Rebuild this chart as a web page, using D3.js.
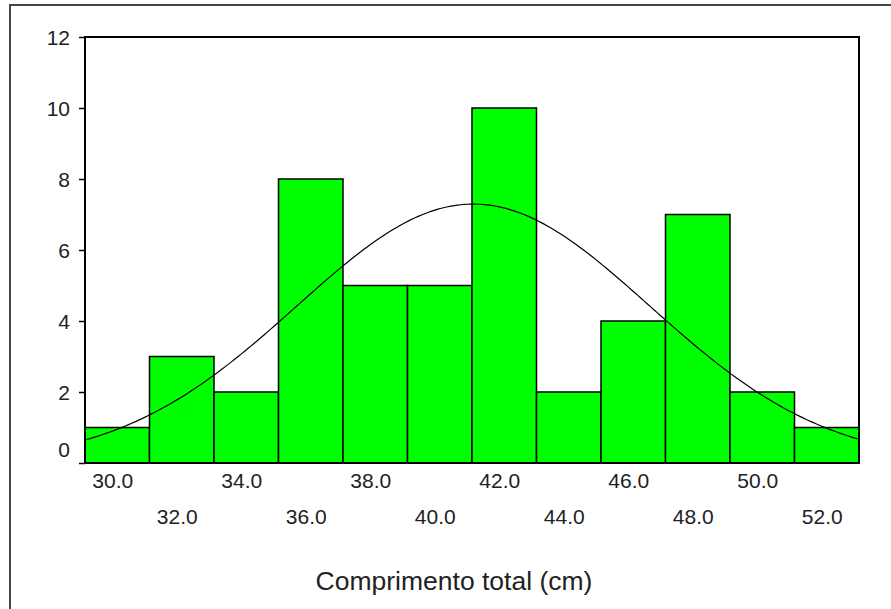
<!DOCTYPE html>
<html>
<head>
<meta charset="utf-8">
<script src="https://cdn.jsdelivr.net/npm/d3@7"></script>
<style>
  body { margin: 0; background: #fff; }
  svg { display: block; font-family: "Liberation Sans", Arial, sans-serif; }
</style>
</head>
<body>
<div id="chart"><svg width="891" height="609"></svg></div>
<script>
// data
const binCenters = [30, 32, 34, 36, 38, 40, 42, 44, 46, 48, 50, 52];
const counts = [1, 3, 2, 8, 5, 5, 10, 2, 4, 7, 2, 1];
const yTicks = [0, 2, 4, 6, 8, 10, 12];
const xTitle = 'Comprimento total (cm)';
const binWidth = 2;

const svg = d3.select('#chart svg');
const SVG_WIDTH = 891;
const SVG_HEIGHT = 609;

const plot = { left: 85, top: 37, right: 859, bottom: 463 };

// scales
const scaleX = d3.scaleLinear()
  .domain([binCenters[0] - binWidth / 2, binCenters[binCenters.length - 1] + binWidth / 2])
  .range([plot.left, plot.right]);

const scaleY = d3.scaleLinear()
  .domain([0, 12])
  .range([plot.bottom, plot.top]);

// outer frame
svg.append('rect')
  .attr('x', 10)
  .attr('y', 5)
  .attr('width', SVG_WIDTH + 20)
  .attr('height', SVG_HEIGHT + 20)
  .style('fill', 'none')
  .style('stroke', '#444')
  .style('stroke-width', 2);

// bars
const bars = binCenters.map((c, i) => ({ c: c, n: counts[i] }));
svg.append('g')
  .attr('id', 'bars')
  .selectAll('rect')
  .data(bars)
  .join('rect')
  .attr('x', d => scaleX(d.c - binWidth / 2))
  .attr('y', d => scaleY(d.n))
  .attr('width', d => scaleX(d.c + binWidth / 2) - scaleX(d.c - binWidth / 2))
  .attr('height', d => scaleY(0) - scaleY(d.n))
  .style('fill', '#00ff00')
  .style('stroke', '#000')
  .style('stroke-width', 1.5);

// normal curve from the data
const total = d3.sum(counts);
const mean = d3.sum(bars, d => d.c * d.n) / total;
const sd = Math.sqrt(d3.sum(bars, d => d.n * (d.c - mean) ** 2) / (total - 1));
const curvePts = d3.range(scaleX.domain()[0] + 0.05, scaleX.domain()[1], 0.1)
  .map(x => [x, total * binWidth / (sd * Math.sqrt(2 * Math.PI)) * Math.exp(-0.5 * ((x - mean) / sd) ** 2)]);

svg.append('path')
  .datum(curvePts)
  .attr('d', d3.line().x(d => scaleX(d[0])).y(d => scaleY(d[1])))
  .style('fill', 'none')
  .style('stroke', '#000')
  .style('stroke-width', 1.2);

// plot frame
svg.append('rect')
  .attr('x', plot.left)
  .attr('y', plot.top)
  .attr('width', plot.right - plot.left)
  .attr('height', plot.bottom - plot.top)
  .style('fill', 'none')
  .style('stroke', '#000')
  .style('stroke-width', 2);

// y axis
const yAxis = svg.append('g')
  .attr('transform', `translate(${plot.left},0)`)
  .call(d3.axisLeft(scaleY).tickValues(yTicks).tickSize(6).tickPadding(9));
yAxis.select('.domain').remove();
yAxis.selectAll('line').style('stroke', '#000').style('stroke-width', 1.5);
yAxis.selectAll('text')
  .style('font-size', '21px')
  .style('font-family', '"Liberation Sans", Arial, sans-serif')
  .style('fill', '#222')
  .attr('dy', d => d === 0 ? '-0.3em' : '0.35em');

// x axis
const xAxis = svg.append('g')
  .attr('transform', `translate(0,${plot.bottom})`)
  .call(d3.axisBottom(scaleX).tickValues(binCenters).tickFormat(d3.format('.1f')).tickSize(0));
xAxis.select('.domain').remove();
xAxis.selectAll('text')
  .attr('x', -5)
  .attr('dy', 0)
  .attr('y', (d, i) => i % 2 === 0 ? 25 : 61)
  .style('font-size', '21px')
  .style('font-family', '"Liberation Sans", Arial, sans-serif')
  .style('fill', '#222');

// x title
svg.append('text')
  .text(xTitle)
  .attr('x', 454)
  .attr('y', 590)
  .style('text-anchor', 'middle')
  .style('font-size', '26.5px')
  .style('fill', '#222');
</script>
</body>
</html>
